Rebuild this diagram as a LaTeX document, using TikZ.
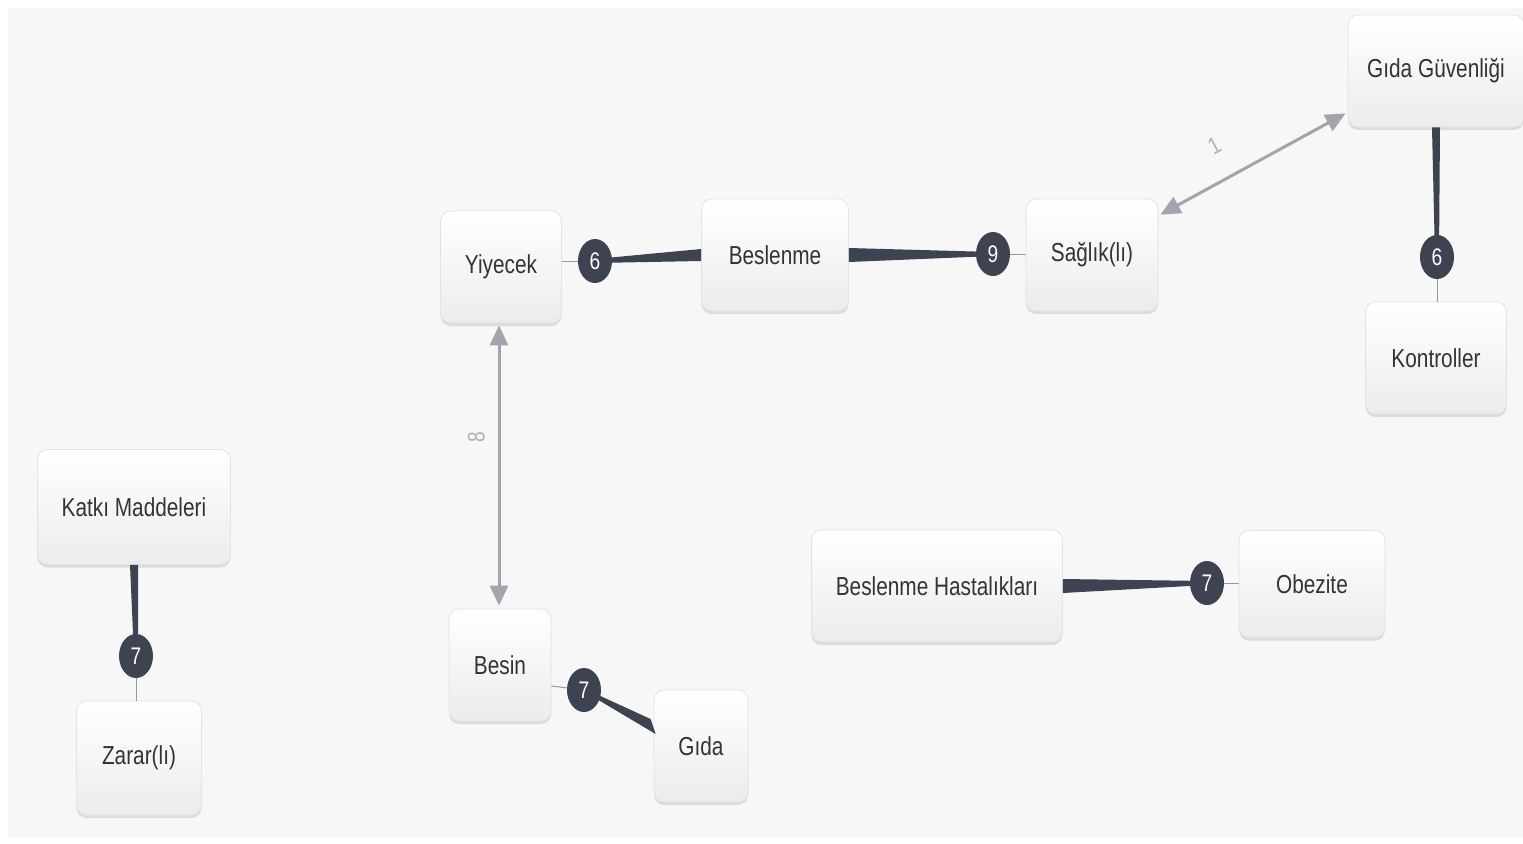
\documentclass[tikz,border=0pt]{standalone}
\usepackage{fontspec}
\setmainfont[FakeStretch=0.8]{Liberation Sans}
\usetikzlibrary{shadows,calc,arrows.meta,shapes.geometric}
\definecolor{badgegray}{HTML}{3D4350}
\definecolor{arrowgray}{HTML}{A3A4AD}
\definecolor{canvas}{HTML}{F7F7F7}
\definecolor{textgray}{HTML}{333333}
\begin{document}
\begin{tikzpicture}[x=0.5pt,y=-0.5pt]
			\useasboundingbox (0,0) rectangle (1523,843);
			\fill[white] (0,0) rectangle (1523,843);
			\fill[canvas] (8,8) rectangle (1523,838);

			\begin{scope}[every node/.style={rounded corners=5pt,draw=gray!22,top color=white,bottom color=gray!15,
				drop shadow={shadow xshift=0pt,shadow yshift=-1.5pt,opacity=0.22},
				minimum height=56pt,text=textgray,font=\fontsize{13}{15}\selectfont}]
				\node[minimum width=60.5pt] (yiy) at (501,267) {Yiyecek};
				\node[minimum width=73.5pt] (bes) at (775,255) {Beslenme};
				\node[minimum width=66pt] (sag) at (1092,255) {Sağlık(lı)};
				\node[minimum width=88pt] (gg) at (1436,71) {Gıda Güvenliği};
				\node[minimum width=70.5pt] (kon) at (1436,358) {Kontroller};
				\node[minimum width=96.5pt,minimum height=57.5pt] (kat) at (134,507) {Katkı Maddeleri};
				\node[minimum width=62.5pt,minimum height=57pt] (zar) at (139,758) {Zarar(lı)};
				\node[minimum width=51pt] (besin) at (500,665) {Besin};
				\node[minimum width=47pt] (gida) at (701,746) {Gıda};
				\node[minimum width=125.5pt] (bh) at (937,586) {Beslenme Hastalıkları};
				\node[minimum width=73pt,minimum height=53.5pt] (obe) at (1312,584) {Obezite};
			\end{scope}

			% weighted links
			\coordinate (c1) at (595,261);
			\coordinate (c2) at (993,254);
			\coordinate (c3) at (1437,257);
			\coordinate (c4) at (136,656);
			\coordinate (c5) at (584,690);
			\coordinate (c6) at (1207,583);

			\begin{scope}[badgegray]
				\draw[line width=0.5pt,badgegray!55] (yiy.east |- c1) -- (c1);
				\fill ($(bes.west)+(0,-6)$) -- ($(c1)+(0,-2)$) -- ($(c1)+(0,2)$) -- ($(bes.west)+(0,6)$) -- cycle;
				\fill ($(bes.east)+(0,-7)$) -- ($(c2)+(0,-2)$) -- ($(c2)+(0,2)$) -- ($(bes.east)+(0,7)$) -- cycle;
				\draw[line width=0.5pt,badgegray!55] (c2) -- (sag.west |- c2);
				\fill ($(gg.south)+(-4,0)$) -- ($(c3)+(-2,0)$) -- ($(c3)+(2,0)$) -- ($(gg.south)+(4,0)$) -- cycle;
				\draw[line width=0.5pt,badgegray!55] (c3) -- (kon.north -| c3);
				\fill ($(kat.south)+(-4,0)$) -- ($(c4)+(-2,0)$) -- ($(c4)+(2,0)$) -- ($(kat.south)+(4,0)$) -- cycle;
				\draw[line width=0.5pt,badgegray!55] (c4) -- (zar.north -| c4);
				\draw[line width=0.5pt,badgegray!55] ($(besin.east)+(0,21)$) -- (c5);
				\fill ($(gida.west)+(-3,-27)$) -- ($(c5)+(-1,-2)$) -- ($(c5)+(1,2)$) -- ($(gida.west)+(2,-12)$) -- cycle;
				\fill ($(bh.east)+(0,-7)$) -- ($(c6)+(0,-2)$) -- ($(c6)+(0,2)$) -- ($(bh.east)+(0,7)$) -- cycle;
				\draw[line width=0.5pt,badgegray!55] (c6) -- (obe.west |- c6);
			\end{scope}

			\begin{scope}[every node/.style={ellipse,fill=badgegray,text=white,inner sep=0pt,
				minimum width=17pt,minimum height=22pt,font=\fontsize{12}{14}\selectfont}]
				\node (b1) at (c1) {6};
				\node (b2) at (c2) {9};
				\node (b3) at (c3) {6};
				\node (b4) at (c4) {7};
				\node (b5) at (c5) {7};
				\node (b6) at (c6) {7};
			\end{scope}

			\begin{scope}[every edge/.style={draw=arrowgray,line width=1.5pt,{Triangle[length=10pt,width=9pt]}-{Triangle[length=10pt,width=9pt]}},
				every node/.style={text=arrowgray!85,font=\fontsize{12}{14}\selectfont}]
				\path ($(yiy.south)+(-2,2)$) edge node[pos=0.4,left=3pt,rotate=90,anchor=south] {8} ($(besin.north)+(-1,-3)$);
				\path ($(sag.north east)+(2,16)$) edge node[pos=0.38,sloped,above=9pt] {1} ($(gg.south west)+(-2,-14)$);
			\end{scope}
		\end{tikzpicture}
\end{document}
